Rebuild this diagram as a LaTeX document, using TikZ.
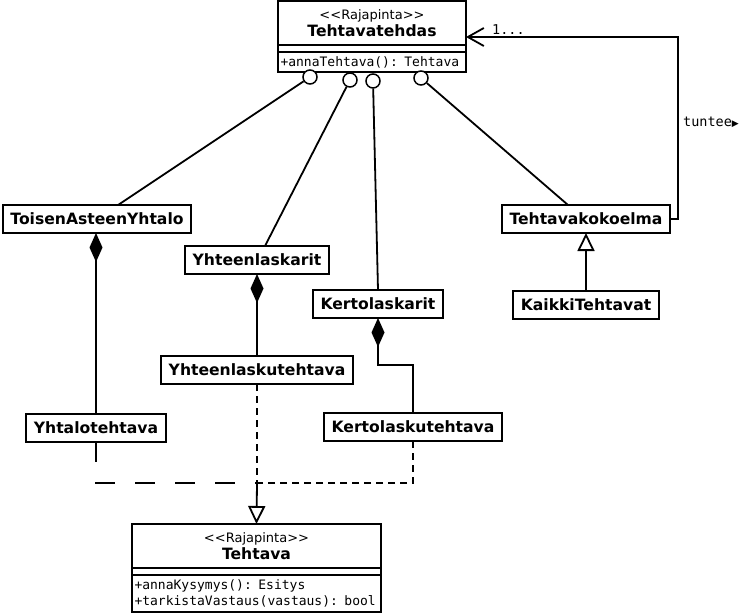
\documentclass[tikz,border=0pt]{standalone}
\usepackage{fontspec}
\usetikzlibrary{arrows.meta, positioning}
\newfontfamily\dvsans{DejaVu Sans}
\newfontfamily\dvmono{DejaVu Sans Mono}
\newcommand{\clsfont}{\dvsans\bfseries\fontsize{15.6}{18}\selectfont}
\newcommand{\stereofont}{\dvsans\fontsize{13}{14}\selectfont}
\newcommand{\methfont}{\dvmono\fontsize{13}{16}\selectfont}
\newcommand{\lblfont}{\dvmono\fontsize{13.5}{15}\selectfont}

\begin{document}
\begin{tikzpicture}[
    x=1pt, y=-1pt,
    cls/.style={rectangle, draw, line width=1.8pt, fill=white, font=\clsfont, minimum height=28pt, inner xsep=7.5pt, inner ysep=0pt, outer sep=0pt},
    head/.style={rectangle, draw, line width=1.8pt, fill=white, align=center, minimum height=44pt, inner sep=0pt, outer sep=0pt},
    gap/.style={rectangle, draw, line width=1.8pt, fill=white, minimum height=7pt, inner sep=0pt, outer sep=0pt},
    meth/.style={rectangle, draw, line width=1.8pt, fill=white, font=\methfont, align=left, inner xsep=2.5pt, inner ysep=0pt, outer sep=0pt},
    lolly/.style={circle, draw, line width=1.5pt, fill=white, minimum size=14pt, inner sep=0pt},
    conn/.style={line width=1.8pt},
    comp/.style={conn, {Diamond[length=29pt, width=13pt]}-},
    gen/.style={conn, -{Triangle[open, length=18pt, width=17pt]}},
    assoc/.style={conn, -{Straight Barb[length=16pt, width=18pt]}},
    reallong/.style={conn, dash pattern=on 20pt off 20pt},
    realshort/.style={conn, dash pattern=on 7pt off 5pt}
]
\useasboundingbox (0,0) rectangle (739,613);

% interfaces
\node[head, minimum width=188pt] (tehdas) at (372,23) {{\stereofont <{}<Rajapinta>{}>}\\[2pt]{\clsfont Tehtavatehdas}};
\node[gap, minimum width=188pt, below=0pt of tehdas] (tehdasgap) {};
\node[meth, text width=183pt, minimum height=20pt, below=0pt of tehdasgap] (tehdasmeth) {\mbox{+annaTehtava(): Tehtava}};

\node[head, minimum width=249pt] (tehtava) at (256.5,546) {{\stereofont <{}<Rajapinta>{}>}\\[2pt]{\clsfont Tehtava}};
\node[gap, minimum width=249pt, below=0pt of tehtava] (tehtavagap) {};
\node[meth, text width=244pt, minimum height=37pt, below=0pt of tehtavagap] (tehtavameth) {\mbox{+annaKysymys(): Esitys}\\\mbox{+tarkistaVastaus(vastaus): bool}};

\node[lolly] (l1) at (310,77) {};
\node[lolly] (l2) at (350,80) {};
\node[lolly] (l3) at (373,81) {};
\node[lolly] (l4) at (421,78) {};

% classes
\node[cls] (toisen) at (97,219) {ToisenAsteenYhtalo};
\node[cls] (yhteenl) at (257,260) {Yhteenlaskarit};
\node[cls] (yhteenlt) at (257,370) {Yhteenlaskutehtava};
\node[cls] (kertol) at (378,304) {Kertolaskarit};
\node[cls] (kertolt) at (413,427) {Kertolaskutehtava};
\node[cls] (yhtalot) at (96,428) {Yhtalotehtava};
\node[cls] (kokoelma) at (586,219) {Tehtavakokoelma};
\node[cls] (kaikki) at (586,305) {KaikkiTehtavat};

% provides
\draw[conn] (l1) -- ([xshift=21pt]toisen.north);
\draw[conn] (l2) -- ([xshift=8pt]yhteenl.north);
\draw[conn] (l3) -- (kertol.north);
\draw[conn] (l4) -- ([xshift=-18pt]kokoelma.north);

% composition
\draw[comp] (toisen.south -| yhtalot.north) -- (yhtalot.north);
\draw[comp] (yhteenl.south) -- (yhteenlt.north);
\draw[comp] (kertol.south) -- ++(0,47) -| (kertolt.north);

\draw[gen] (kaikki) -- (kokoelma);
\draw[assoc] (kokoelma.east) -- ++(8,0) |- ([yshift=-14pt]tehdas.east) node[pos=0.9, above, font=\lblfont, inner sep=2pt] {1...};
\node[font=\lblfont, anchor=west, inner sep=1pt] (tuntee) at (682,122) {tuntee{\dvsans\fontsize{9}{9}\selectfont ▶}};

% realization
\coordinate (join) at (257,483);
\draw[reallong] (yhtalot.south) |- (join);
\draw[realshort] (yhteenlt.south) -- (join);
\draw[realshort] (kertolt.south) |- (join);
\draw[gen] (join) -- (tehtava.north);
\end{tikzpicture}
\end{document}
